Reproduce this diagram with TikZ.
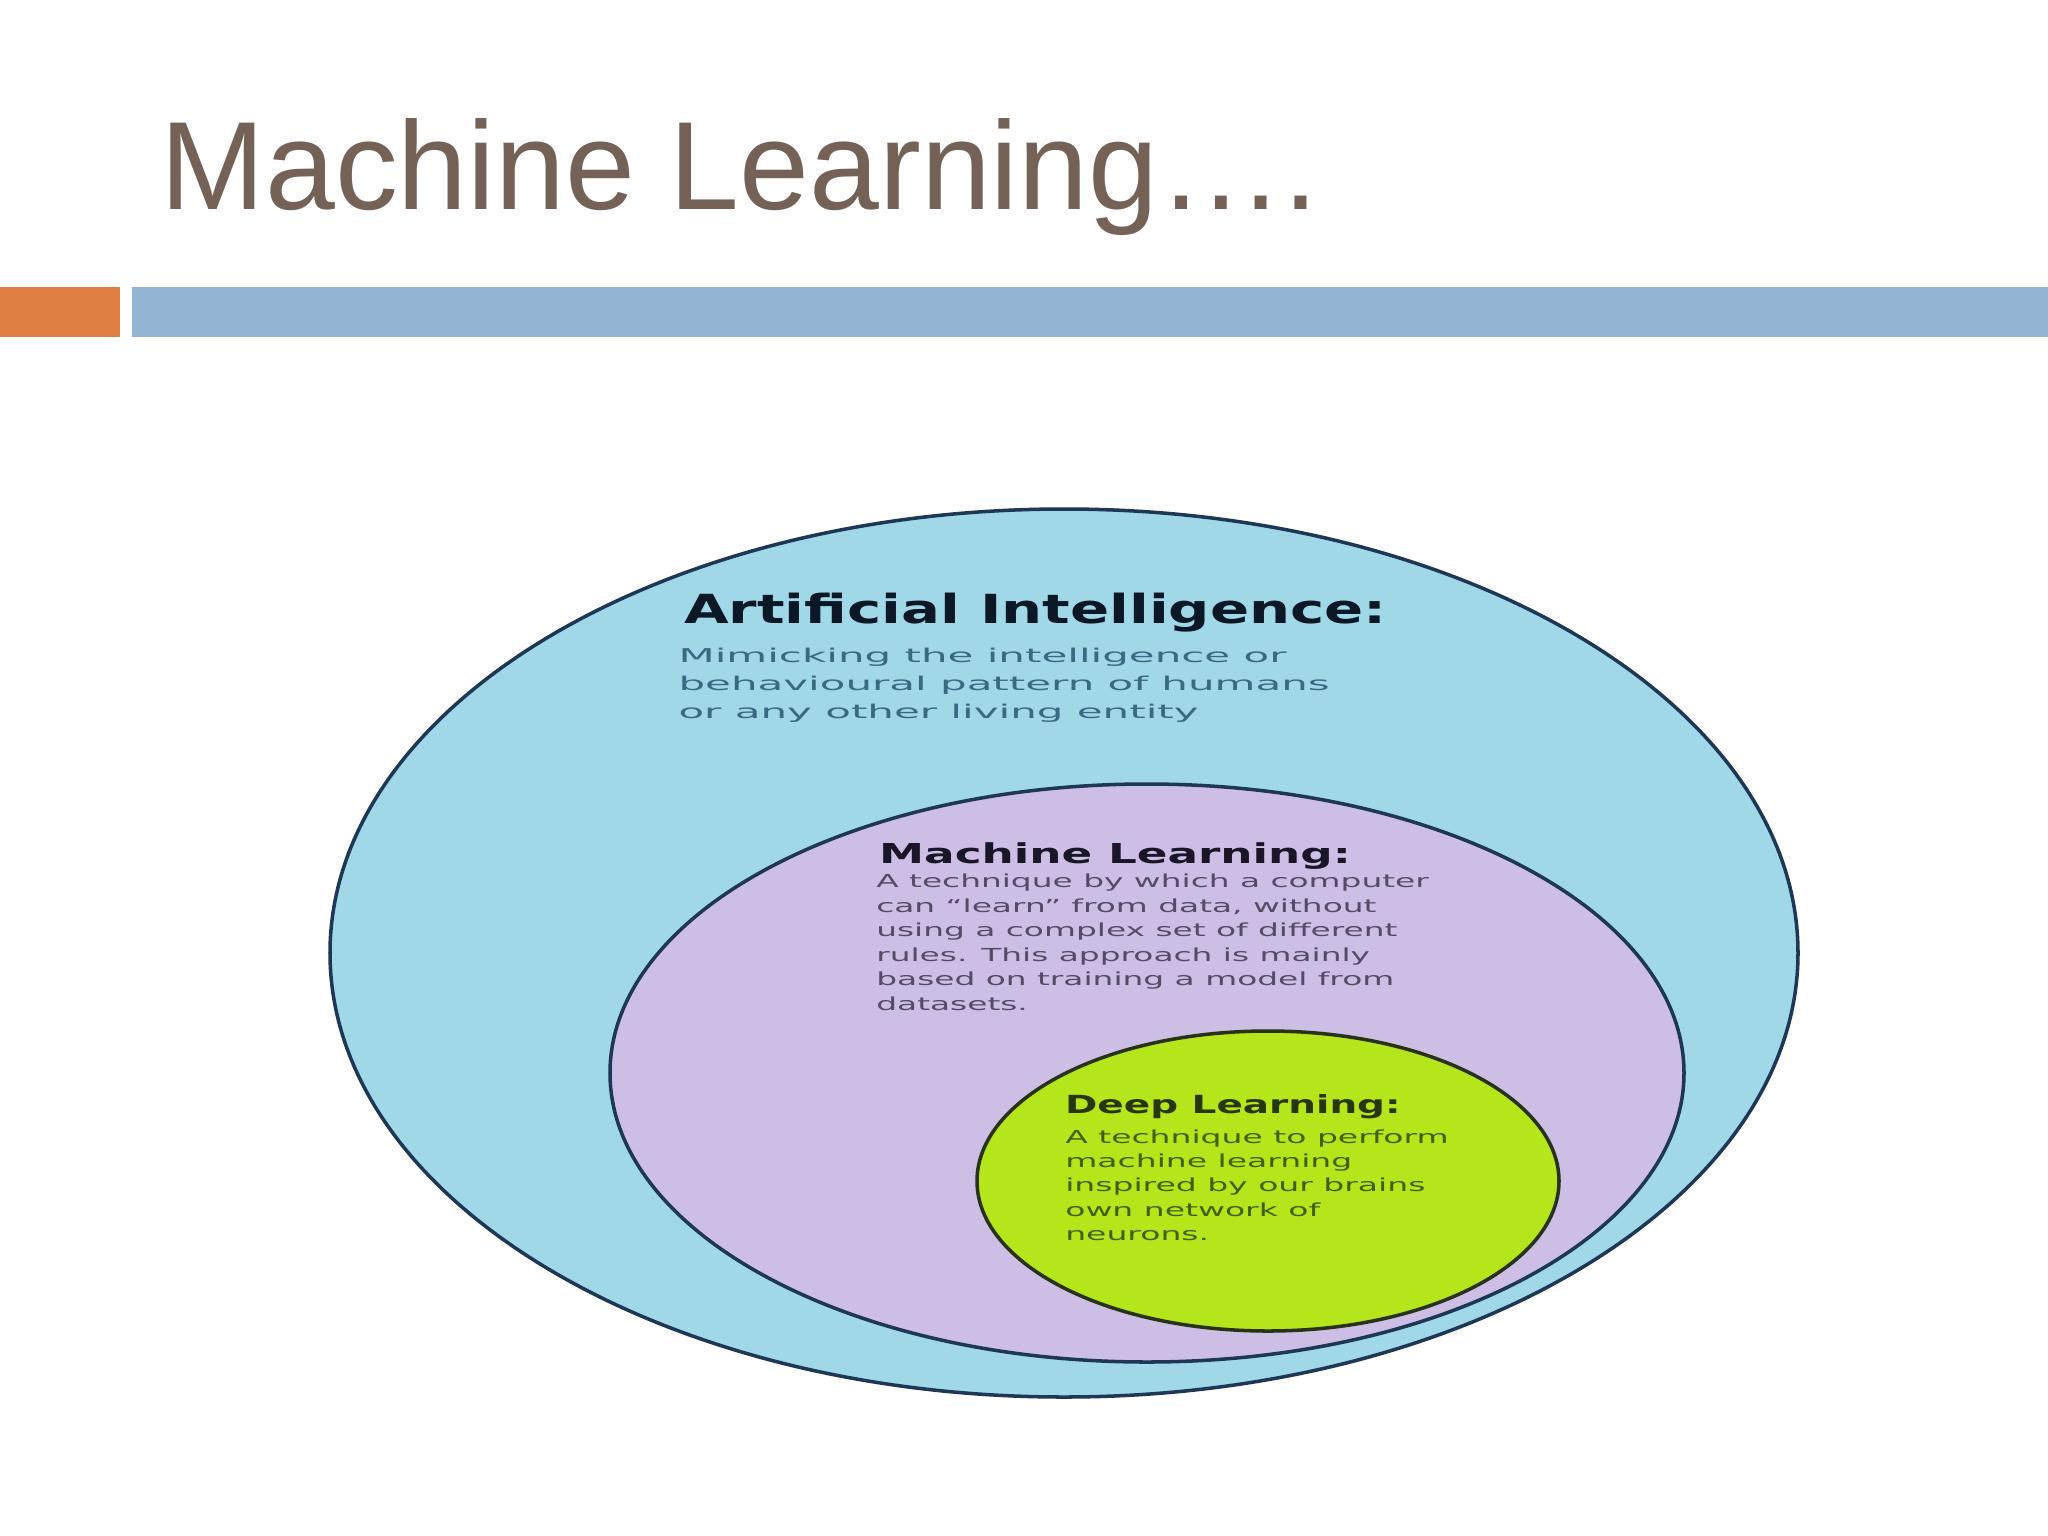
\documentclass[tikz,border=0pt]{standalone}
\usepackage{fontspec}
\setmainfont{Liberation Sans}
\newfontfamily\dv{DejaVu Sans}
\definecolor{titlebrown}{RGB}{117,98,87}
\definecolor{barorange}{RGB}{224,127,68}
\definecolor{barblue}{RGB}{148,180,212}
\definecolor{aifill}{RGB}{160,216,232}
\definecolor{mlfill}{RGB}{205,190,230}
\definecolor{dlfill}{RGB}{181,230,28}
\definecolor{rim}{RGB}{30,55,85}
\definecolor{dlrim}{RGB}{40,50,20}
\definecolor{aihead}{RGB}{12,24,38}
\definecolor{aibody}{RGB}{60,105,130}
\definecolor{mlhead}{RGB}{25,22,40}
\definecolor{mlbody}{RGB}{85,75,100}
\definecolor{dlhead}{RGB}{40,55,10}
\definecolor{dlbody}{RGB}{70,95,15}
\tikzset{
  txt/.style={inner sep=0pt, anchor=base west},
  blob/.style={draw=rim, line width=1pt},
  aih/.style={txt, xscale=1.44, font=\dv\bfseries\fontsize{11.4}{13}\selectfont, text=aihead},
  aib/.style={txt, xscale=2.21, font=\dv\fontsize{5.4}{6}\selectfont, text=aibody},
  mlh/.style={txt, xscale=1.65, font=\dv\bfseries\fontsize{7.8}{9}\selectfont, text=mlhead},
  mlb/.style={txt, xscale=1.83, font=\dv\fontsize{5.1}{6}\selectfont, text=mlbody},
  dlh/.style={txt, xscale=1.56, font=\dv\bfseries\fontsize{7.1}{8}\selectfont, text=dlhead},
  dlb/.style={txt, xscale=1.84, font=\dv\fontsize{5.1}{6}\selectfont, text=dlbody},
}
\begin{document}
\begin{tikzpicture}[x=0.01cm, y=-0.01cm]
\useasboundingbox (0,0) rectangle (2048,1536);
\fill[white] (0,0) rectangle (2048,1536);
% title
\node[txt, font=\fontsize{35.7}{40}\selectfont, text=titlebrown] (title) at (160,209) {Machine Learning….};
% bars
\fill[barorange] (0,287) rectangle (120,337);
\fill[barblue] (132,287) rectangle (2048,337);
% ellipses
\draw[blob, fill=aifill] (1064,953) ellipse [x radius=734, y radius=444];
\draw[blob, fill=mlfill] (1147,1073) ellipse [x radius=537, y radius=289];
\draw[blob, draw=dlrim, fill=dlfill] (1268,1181) ellipse [x radius=291, y radius=150];
% AI text
\node[aih] (aihead) at (683,623) {Artificial Intelligence:};
\node[aib] (ai1) at (677,662) {Mimicking the intelligence or};
\node[aib] (ai2) at (677,690) {behavioural pattern of humans};
\node[aib] (ai3) at (677,718) {or any other living entity};
% ML text
\node[mlh] (mlhead) at (878,863) {Machine Learning:};
\node[mlb] (ml1) at (875,887) {A technique by which a computer};
\node[mlb] (ml2) at (875,912) {can “learn” from data, without};
\node[mlb] (ml3) at (875,936) {using a complex set of different};
\node[mlb] (ml4) at (875,961) {rules. This approach is mainly};
\node[mlb] (ml5) at (875,985) {based on training a model from};
\node[mlb] (ml6) at (875,1010) {datasets.};
% DL text
\node[dlh] (dlhead) at (1064,1113) {Deep Learning:};
\node[dlb] (dl1) at (1064,1143) {A technique to perform};
\node[dlb] (dl2) at (1064,1167) {machine learning};
\node[dlb] (dl3) at (1064,1191) {inspired by our brains};
\node[dlb] (dl4) at (1064,1216) {own network of};
\node[dlb] (dl5) at (1064,1240) {neurons.};
\end{tikzpicture}
\end{document}
